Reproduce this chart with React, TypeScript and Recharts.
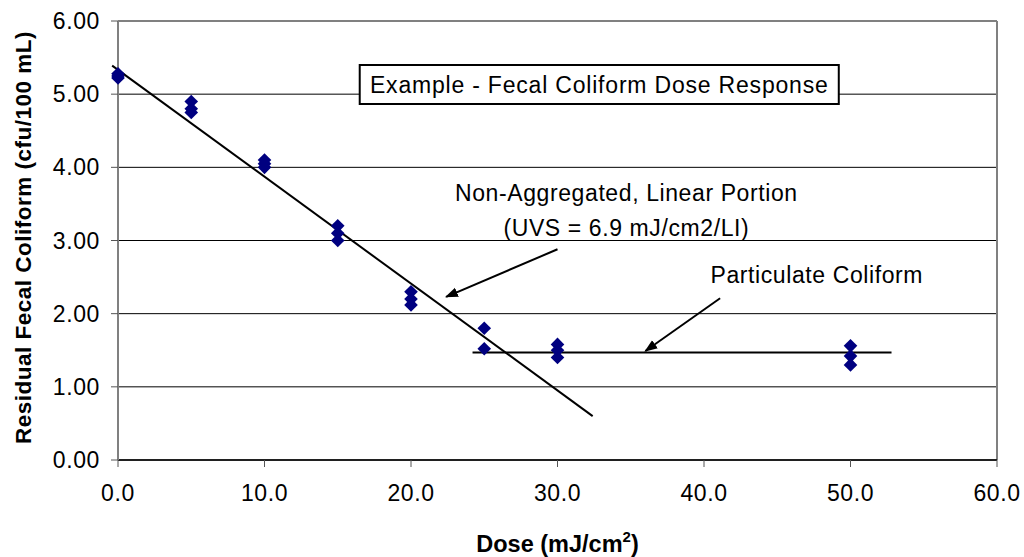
import {
  ScatterChart,
  Scatter,
  XAxis,
  YAxis,
  CartesianGrid,
  ReferenceLine,
  ReferenceArea,
  ReferenceDot,
  Label,
} from 'recharts';

// Dose (mJ/cm2) and residual log fecal coliform
const doses = [0, 0, 0, 5, 5, 5, 10, 10, 10, 15, 15, 15, 20, 20, 20, 25, 25, 30, 30, 30, 50, 50, 50];
const residuals = [
  5.28, 5.25, 5.22, 4.9, 4.8, 4.75, 4.1, 4.05, 4.0, 3.2, 3.1, 3.0, 2.3, 2.2, 2.12, 1.8, 1.52, 1.58, 1.5, 1.4,
  1.56, 1.42, 1.3,
];

const xTicks = [0, 10, 20, 30, 40, 50, 60];
const yTicks = [0, 1, 2, 3, 4, 5, 6];

// fitted lines (data coords)
const linearFit = [
  { x: -0.4, y: 5.39 },
  { x: 32.4, y: 0.6 },
];
const particulateFit = [
  { x: 24.2, y: 1.47 },
  { x: 52.8, y: 1.47 },
];

// annotation arrows: from label towards the line
const linearArrow = [
  { x: 30.0, y: 2.88 },
  { x: 22.4, y: 2.23 },
];
const particulateArrow = [
  { x: 41.1, y: 2.21 },
  { x: 36.0, y: 1.49 },
];

const points = doses.map((d, i) => ({ x: d, y: residuals[i] }));

const FONT = '"Liberation Sans", Arial, sans-serif';
const NAVY = '#000080';

const Diamond = (p: any) => {
  const { cx, cy } = p;
  const r = 6.8;
  return <path d={`M${cx},${cy - r}L${cx + r},${cy}L${cx},${cy + r}L${cx - r},${cy}Z`} fill={NAVY} />;
};

const ArrowLine = (p: any) => (
  <line x1={p.x1} y1={p.y1} x2={p.x2} y2={p.y2} stroke="#000" strokeWidth={2} markerEnd="url(#arrowHead)" />
);

const textStyle = { fill: '#000', fontSize: 23, fontFamily: FONT, letterSpacing: 0.6 };

export default function App() {
  return (
    <div style={{ position: 'absolute', left: 0, top: 0, width: 1024, height: 557, background: '#fff', fontFamily: FONT }}>
      <svg width={0} height={0} style={{ position: 'absolute' }}>
        <defs>
          <marker
            id="arrowHead"
            viewBox="0 0 10 10"
            refX="9"
            refY="5"
            markerWidth="13"
            markerHeight="13"
            markerUnits="userSpaceOnUse"
            orient="auto"
          >
            <path d="M0,1.2 L10,5 L0,8.8 z" fill="#000" />
          </marker>
        </defs>
      </svg>
      <ScatterChart width={1024} height={557} margin={{ top: 21, right: 27, bottom: 0, left: 0 }}>
        <CartesianGrid vertical={false} stroke="#000" strokeWidth={1} />
        <XAxis
          type="number"
          dataKey="x"
          domain={[0, 60]}
          ticks={xTicks}
          tickFormatter={(v: number) => v.toFixed(1)}
          height={97}
          tickSize={7}
          tickMargin={18}
          axisLine={{ stroke: '#000', strokeWidth: 1.5 }}
          tickLine={{ stroke: '#555' }}
          tick={textStyle}
        >
          <Label
            content={(props: any) => {
              const vb = props.viewBox;
              return (
                <text
                  x={vb.x + vb.width / 2}
                  y={vb.y + 92}
                  textAnchor="middle"
                  fontFamily={FONT}
                  fontWeight="bold"
                  fontSize={23.5}
                  fill="#000"
                >
                  Dose (mJ/cm
                  <tspan fontSize={15} dy={-10}>
                    2
                  </tspan>
                  <tspan dy={10}>)</tspan>
                </text>
              );
            }}
          />
        </XAxis>
        <YAxis
          type="number"
          dataKey="y"
          domain={[0, 6]}
          ticks={yTicks}
          tickFormatter={(v: number) => v.toFixed(2)}
          width={118}
          tickSize={7}
          tickMargin={11}
          axisLine={{ stroke: '#808080', strokeWidth: 2 }}
          tickLine={{ stroke: '#555' }}
          tick={textStyle}
        >
          <Label
            content={(props: any) => {
              const vb = props.viewBox;
              const cy = vb.y + vb.height / 2 - 3;
              return (
                <text
                  x={23}
                  y={cy}
                  transform={`rotate(-90 23 ${cy})`}
                  textAnchor="middle"
                  dominantBaseline="central"
                  fontFamily={FONT}
                  fontWeight="bold"
                  fontSize={22.5}
                  letterSpacing={0.5}
                  fill="#000"
                >
                  Residual Fecal Coliform (cfu/100 mL)
                </text>
              );
            }}
          />
        </YAxis>

        <ReferenceLine y={6} stroke="#808080" strokeWidth={2} />
        <ReferenceLine x={60} stroke="#808080" strokeWidth={2} />

        <ReferenceArea
          x1={16.5}
          x2={49.2}
          y1={4.865}
          y2={5.4}
          fill="#fff"
          fillOpacity={1}
          stroke="#000"
          strokeWidth={2}
          label={{ value: 'Example - Fecal Coliform Dose Response', position: 'center', ...textStyle, letterSpacing: 0.8 }}
        />

        <ReferenceLine segment={linearFit} stroke="#000" strokeWidth={2} ifOverflow="visible" />
        <ReferenceLine segment={particulateFit} stroke="#000" strokeWidth={2} ifOverflow="visible" />
        <ReferenceLine segment={linearArrow} ifOverflow="visible" shape={ArrowLine} />
        <ReferenceLine segment={particulateArrow} ifOverflow="visible" shape={ArrowLine} />

        <ReferenceDot
          x={34.7}
          y={3.65}
          r={0}
          stroke="none"
          fill="none"
          ifOverflow="visible"
          label={{ value: 'Non-Aggregated, Linear Portion', position: 'center', ...textStyle }}
        />
        <ReferenceDot
          x={34.7}
          y={3.17}
          r={0}
          stroke="none"
          fill="none"
          ifOverflow="visible"
          label={{ value: '(UVS = 6.9 mJ/cm2/LI)', position: 'center', ...textStyle }}
        />
        <ReferenceDot
          x={47.7}
          y={2.53}
          r={0}
          stroke="none"
          fill="none"
          ifOverflow="visible"
          label={{ value: 'Particulate Coliform', position: 'center', ...textStyle }}
        />

        <Scatter data={points} shape={Diamond} isAnimationActive={false} />
      </ScatterChart>
    </div>
  );
}
